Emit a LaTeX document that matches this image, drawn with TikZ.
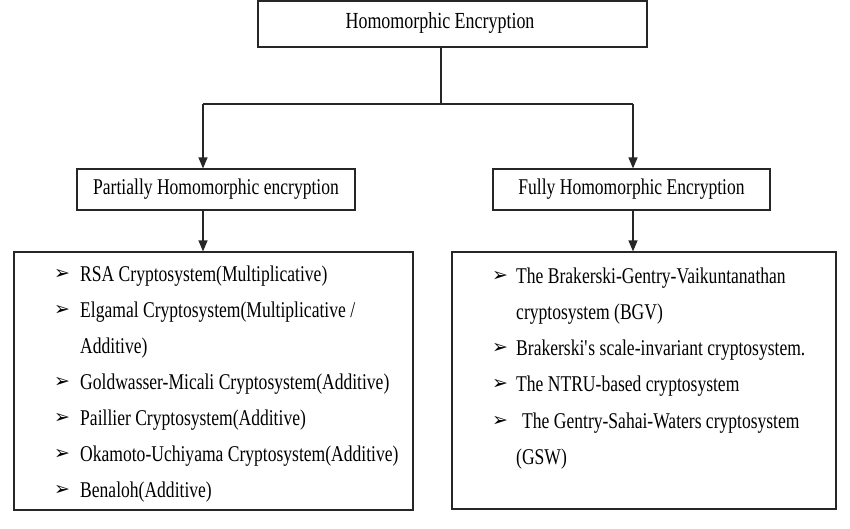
\documentclass[tikz,border=0pt]{standalone}
\usepackage{fontspec}
\setmainfont[FakeStretch=0.78]{Liberation Serif}
\newfontfamily\bulletfont{DejaVu Sans}
\usetikzlibrary{arrows.meta}

\tikzset{
  box/.style={draw=black!85, line width=1.2pt, inner sep=0pt},
  txt/.style={font=\fontsize{22.5}{26}\selectfont, inner sep=0pt},
  item/.style={txt, anchor=base west},
  bul/.style={font=\bulletfont\fontsize{19}{22}\selectfont, inner sep=0pt, anchor=west},
  link/.style={line width=1.2pt, draw=black!85},
  arr/.style={link, -{Triangle[length=11pt,width=9pt]}}
}

\begin{document}
\begin{tikzpicture}[x=1pt, y=-1pt]
    \useasboundingbox (0,0) rectangle (850,528);

    % Caja superior
    \node[box, minimum width=389pt, minimum height=46pt] (he) at (452.5,24) {};
    \node[txt, font=\fontsize{23}{27}\selectfont] (helbl) at (440,23) {Homomorphic Encryption};

    % Cajas intermedias
    \node[box, txt, minimum width=278pt, minimum height=41pt] (pe) at (216,189.5) {Partially Homomorphic encryption};
    \node[box, txt, minimum width=277pt, minimum height=41pt] (fe) at (631.5,189.5) {Fully Homomorphic Encryption};

    % Cajas de listas
    \node[box, minimum width=399pt, minimum height=258pt] (pl) at (213.5,381) {};
    \node[box, minimum width=384pt, minimum height=257pt] (fl) at (644,380.5) {};

    % Conectores
    \coordinate (split) at (441,104);
    \coordinate (jl) at (203,104);
    \coordinate (jr) at (633,104);
    \draw[link] (he.south -| split) -- (split);
    \draw[link] (jl) -- (jr);
    \draw[arr] (jl) -- (jl |- pe.north);
    \draw[arr] (jr) -- (jr |- fe.north);
    \draw[arr] (pe.south -| jl) -- (jl |- pl.north);
    \draw[arr] (fe.south -| jr) -- (jr |- fl.north);

    % Lista parcial
    \foreach \y in {281,317,389,425,461,497}
        \node[bul] at (54,\y-7) {➢};
    \node[item] (pl1) at (80,281) {RSA Cryptosystem(Multiplicative)};
    \node[item] (pl2) at (80,317) {Elgamal Cryptosystem(Multiplicative /};
    \node[item] (pl3) at (80,353) {Additive)};
    \node[item] (pl4) at (80,389) {Goldwasser-Micali Cryptosystem(Additive)};
    \node[item] (pl5) at (80,425) {Paillier Cryptosystem(Additive)};
    \node[item] (pl6) at (80,461) {Okamoto-Uchiyama Cryptosystem(Additive)};
    \node[item] (pl7) at (80,497) {Benaloh(Additive)};

    % Lista completa
    \foreach \y in {283,355,391,428}
        \node[bul] at (492,\y-7) {➢};
    \node[item] (fl1) at (516,283) {The Brakerski-Gentry-Vaikuntanathan};
    \node[item] (fl2) at (516,319) {cryptosystem (BGV)};
    \node[item] (fl3) at (516,355) {Brakerski\textquotesingle s scale-invariant cryptosystem.};
    \node[item] (fl4) at (516,391) {The NTRU-based cryptosystem};
    \node[item] (fl5) at (522,428) {The Gentry-Sahai-Waters cryptosystem};
    \node[item] (fl6) at (516,464) {(GSW)};
\end{tikzpicture}
\end{document}
